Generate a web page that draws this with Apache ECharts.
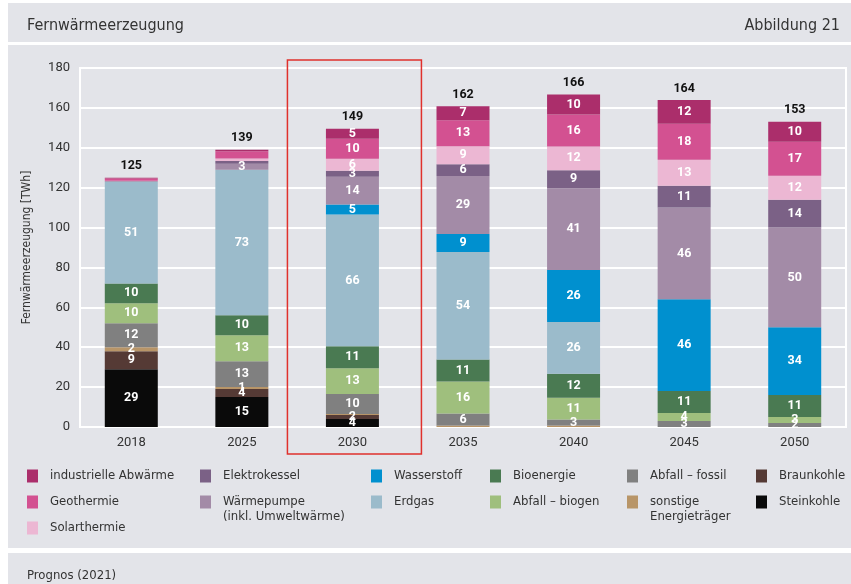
<!DOCTYPE html>
<html>
<head>
<meta charset="utf-8">
<script src="https://cdn.jsdelivr.net/npm/echarts@6/dist/echarts.min.js"></script>
<style>
  html, body { margin: 0; padding: 0; background: #ffffff; }
  body { width: 851px; height: 584px; position: relative; overflow: hidden; }
  .band { position: absolute; left: 8px; width: 843px; background: #e3e4e9; }
  #chart { position: absolute; left: 0; top: 0; width: 851px; height: 584px; }
</style>
</head>
<body>
<div class="band" style="top:3px;height:39px;"></div>
<div class="band" style="top:45px;height:503px;"></div>
<div class="band" style="top:553px;height:31px;"></div>
<div id="chart"></div>
<script>
// ---- data ----
const years = ['2018', '2025', '2030', '2035', '2040', '2045', '2050'];
const steinkohle    = [29, 15, 4, 0, 0, 0, 0];
const braunkohle    = [9, 4, 2, 0, 0, 0, 0];
const sonstige      = [2, 1, 0.5, 0.8, 0.7, 0, 0];
const abfallFossil  = [12, 13, 10, 6, 3, 3, 2];
const abfallBiogen  = [10, 13, 13, 16, 11, 4, 3];
const bioenergie    = [10, 10, 11, 11, 12, 11, 11];
const erdgas        = [51, 73, 66, 54, 26, 0, 0];
const wasserstoff   = [0, 0, 5, 9, 26, 46, 34];
const waermepumpe   = [0.3, 3, 14, 29, 41, 46, 50];
const elektrokessel = [0, 1.4, 3, 6, 9, 11, 14];
const solarthermie  = [0.2, 1.2, 6, 9, 12, 13, 12];
const geothermie    = [1.1, 3.6, 10, 13, 16, 18, 17];
const industrielle  = [0.4, 0.8, 5, 7, 10, 12, 10];
const totals        = [125, 139, 149, 162, 166, 164, 153];
const yTicks        = [0, 20, 40, 60, 80, 100, 120, 140, 160, 180];

const seriesDefs = [
  { name: 'Steinkohle', data: steinkohle, color: '#0a0a0a' },
  { name: 'Braunkohle', data: braunkohle, color: '#553a35' },
  { name: 'sonstige\nEnergieträger', data: sonstige, color: '#b89568' },
  { name: 'Abfall – fossil', data: abfallFossil, color: '#808080' },
  { name: 'Abfall – biogen', data: abfallBiogen, color: '#9fbf7d' },
  { name: 'Bioenergie', data: bioenergie, color: '#4a7a52' },
  { name: 'Erdgas', data: erdgas, color: '#9bbbcb' },
  { name: 'Wasserstoff', data: wasserstoff, color: '#0090cf' },
  { name: 'Wärmepumpe\n(inkl. Umweltwärme)', data: waermepumpe, color: '#a38ba7' },
  { name: 'Elektrokessel', data: elektrokessel, color: '#7b6186' },
  { name: 'Solarthermie', data: solarthermie, color: '#ecb7d3' },
  { name: 'Geothermie', data: geothermie, color: '#d35191' },
  { name: 'industrielle Abwärme', data: industrielle, color: '#ab2e6b' }
];

const legendFont = "'DejaVu Sans Condensed', 'Liberation Sans Narrow', sans-serif";
const numFont = "Roboto, 'Open Sans', sans-serif";

// legend placement [name, iconLeft, rowCenterY]
const legendPos = [
  ['industrielle Abwärme', 27, 476],
  ['Geothermie', 27, 502],
  ['Solarthermie', 27, 528],
  ['Elektrokessel', 200, 476],
  ['Wärmepumpe\n(inkl. Umweltwärme)', 200, 502],
  ['Wasserstoff', 371, 476],
  ['Erdgas', 371, 502],
  ['Bioenergie', 490, 476],
  ['Abfall – biogen', 490, 502],
  ['Abfall – fossil', 627, 476],
  ['sonstige\nEnergieträger', 627, 502],
  ['Braunkohle', 756, 476],
  ['Steinkohle', 756, 502]
];

// two-line entries: square at top of a taller icon box so it lines up with the first text line
const tallIcon = 'path://M0,0H11V13H0Z M0,27.999H0.001V28H0Z';

const legends = legendPos.map(([name, x, y]) => {
  const two = name.indexOf('\n') >= 0;
  return {
    data: [name],
    left: x,
    top: y - 7.5,
    padding: 0,
    itemWidth: 11,
    itemHeight: two ? 28 : 13,
    itemGap: 0,
    selectedMode: false,
    icon: two ? tallIcon : 'rect',
    textStyle: { fontFamily: legendFont, fontSize: 13, color: '#333', lineHeight: 15, padding: [0, 0, 0, 7] }
  };
});

const chart = echarts.init(document.getElementById('chart'), null, { renderer: 'canvas' });

const series = seriesDefs.map(d => ({
  name: d.name,
  type: 'bar',
  stack: 'total',
  xAxisIndex: 1,
  yAxisIndex: 1,
  barWidth: 53,
  data: d.data,
  itemStyle: { color: d.color },
  emphasis: { disabled: true },
  label: {
    show: true,
    position: 'inside',
    color: '#ffffff',
    fontFamily: numFont,
    fontWeight: 'bold',
    fontSize: 12.5,
    formatter: p => (p.value > 0 && Number.isInteger(p.value)) ? String(p.value) : ''
  }
}));

series.push({
  name: '__total',
  type: 'bar',
  stack: 'total',
  xAxisIndex: 1,
  yAxisIndex: 1,
  barWidth: 53,
  data: years.map(() => 0),
  itemStyle: { color: 'transparent' },
  emphasis: { disabled: true },
  label: {
    show: true,
    position: 'top',
    distance: 5,
    color: '#111',
    fontFamily: numFont,
    fontWeight: 'bold',
    fontSize: 12.5,
    formatter: p => String(totals[p.dataIndex])
  }
});

const option = {
  animation: false,
  title: [
    { text: 'Fernwärmeerzeugung', left: 22, top: 13, textStyle: { fontFamily: legendFont, fontSize: 16, fontWeight: 'normal', color: '#333' } },
    { text: 'Abbildung 21', right: 6, top: 13, textStyle: { fontFamily: legendFont, fontSize: 16, fontWeight: 'normal', color: '#333' } },
    { text: 'Prognos (2021)', left: 22, top: 564, textStyle: { fontFamily: legendFont, fontSize: 13, fontWeight: 'normal', color: '#333' } }
  ],
  legend: legends,
  grid: [
    { left: 80, right: 5, top: 68, bottom: 157, show: true, borderColor: '#ffffff', borderWidth: 2, backgroundColor: 'transparent' },
    { left: 76, right: 1, top: 68, bottom: 157 }
  ],
  xAxis: [
    { type: 'category', gridIndex: 0, data: years, show: false },
    {
      type: 'category', gridIndex: 1, data: years,
      axisLine: { show: false }, axisTick: { show: false },
      axisLabel: { color: '#333', fontFamily: numFont, fontSize: 13, margin: 9 }
    }
  ],
  yAxis: [
    {
      type: 'value', gridIndex: 0, min: yTicks[0], max: yTicks[yTicks.length - 1], interval: 20,
      name: 'Fernwärmeerzeugung [TWh]', nameLocation: 'middle', nameGap: 47, nameRotate: 90,
      nameTextStyle: { fontFamily: legendFont, fontSize: 12, color: '#333' },
      axisLine: { show: false }, axisTick: { show: false },
      axisLabel: { color: '#333', fontFamily: numFont, fontSize: 13, margin: 10 },
      splitLine: { show: true, lineStyle: { color: '#ffffff', width: 2 } }
    },
    { type: 'value', gridIndex: 1, min: 0, max: 180, show: false, splitLine: { show: false } }
  ],
  series: series
};

chart.setOption(option);

// red highlight frame around 2030
const cx = chart.convertToPixel({ xAxisIndex: 1 }, '2030');
chart.setOption({
  graphic: [{
    type: 'rect',
    shape: { x: cx - 65, y: 60, width: 134, height: 394 },
    style: { fill: 'none', stroke: '#e0302c', lineWidth: 1.5 },
    silent: true,
    z: 100
  }]
});
</script>
</body>
</html>
